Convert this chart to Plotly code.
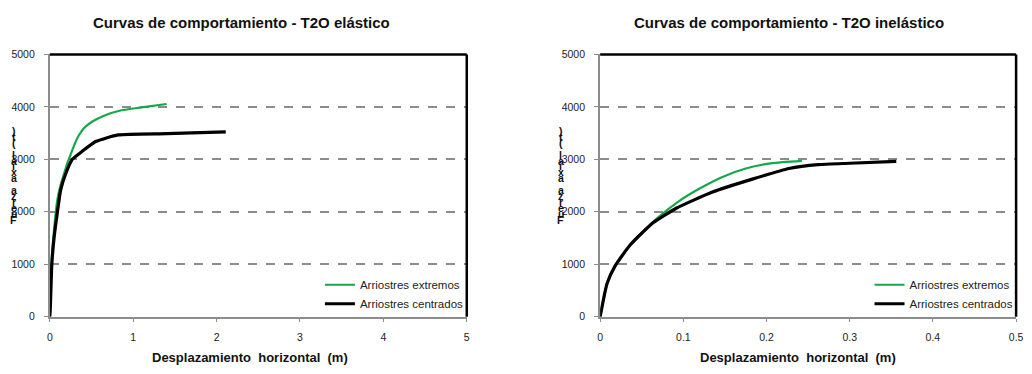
import plotly.graph_objects as go

# Capacity curves: horizontal displacement (m) vs axial force (t)
elas_ext_x = [0, 0.01, 0.02, 0.05, 0.09, 0.13, 0.17, 0.21, 0.25, 0.30, 0.35, 0.42, 0.51, 0.65, 0.86, 1.10, 1.40]
elas_ext_y = [0, 600, 1050, 1650, 2232, 2520, 2725, 2930, 3094, 3300, 3463, 3610, 3720, 3832, 3935, 3990, 4055]
elas_cen_x = [0, 0.005, 0.024, 0.05, 0.09, 0.13, 0.19, 0.27, 0.39, 0.55, 0.82, 1.40, 2.11]
elas_cen_y = [0, 150, 1002, 1494, 1987, 2417, 2725, 3000, 3155, 3339, 3465, 3490, 3524]

inel_ext_x = [0, 0.0083, 0.018, 0.040, 0.068, 0.094, 0.119, 0.147, 0.175, 0.207, 0.2425]
inel_ext_y = [0, 631, 969, 1440, 1870, 2194, 2438, 2665, 2826, 2929, 2972]
inel_cen_x = [0, 0.0083, 0.018, 0.036, 0.064, 0.092, 0.135, 0.183, 0.227, 0.262, 0.300, 0.356]
inel_cen_y = [0, 631, 969, 1366, 1796, 2072, 2377, 2623, 2826, 2900, 2925, 2960]

series_names = ["Arriostres extremos", "Arriostres centrados"]
titles = ["Curvas de comportamiento - T2O elástico", "Curvas de comportamiento - T2O inelástico"]
x_title = "Desplazamiento  horizontal  (m)"
y_title = "Fuerza axial (t)"

GREEN = "#15a84a"
FONT = "Liberation Sans, Arial, sans-serif"
W, H = 1032, 374

fig = go.Figure()
fig.add_trace(go.Scatter(x=elas_ext_x, y=elas_ext_y, mode="lines", name=series_names[0],
                         line=dict(color=GREEN, width=2.2, shape="spline", smoothing=0.6),
                         xaxis="x", yaxis="y", legend="legend"))
fig.add_trace(go.Scatter(x=elas_cen_x, y=elas_cen_y, mode="lines", name=series_names[1],
                         line=dict(color="black", width=3.2, shape="spline", smoothing=0.5),
                         xaxis="x", yaxis="y", legend="legend"))
fig.add_trace(go.Scatter(x=inel_ext_x, y=inel_ext_y, mode="lines", name=series_names[0],
                         line=dict(color=GREEN, width=2.2, shape="spline", smoothing=0.5),
                         xaxis="x2", yaxis="y2", legend="legend2"))
fig.add_trace(go.Scatter(x=inel_cen_x, y=inel_cen_y, mode="lines", name=series_names[1],
                         line=dict(color="black", width=3.2, shape="spline", smoothing=0.5),
                         xaxis="x2", yaxis="y2", legend="legend2"))

tickfont = dict(family=FONT, size=10.5, color="#222")
ydom = [1 - 321 / H, 1 - 50 / H]


def xaxis(dom, rng, dtick, anchor):
    return dict(domain=dom, range=rng, dtick=dtick, anchor=anchor, showgrid=False, zeroline=False,
                showline=True, linecolor="#8c8c8c", linewidth=2, ticks="outside", ticklen=3,
                tickcolor="#8c8c8c", tickfont=tickfont, ticklabelstandoff=7)


def yaxis(rng, anchor):
    return dict(domain=ydom, range=rng, dtick=1000, anchor=anchor, showgrid=True,
                gridcolor="#8c8c8c", griddash="dash", gridwidth=1.5, zeroline=False,
                showline=True, linecolor="#8c8c8c", linewidth=2, ticks="outside", ticklen=4,
                tickcolor="#8c8c8c", tickfont=tickfont, ticklabelstandoff=7)


xd1 = [47.3 / W, 468.3 / W]
xd2 = [603 / W, 1023 / W]

legend_style = dict(font=dict(family=FONT, size=11.5, color="#222"), bgcolor="rgba(0,0,0,0)",
                    xanchor="left", yanchor="top", tracegroupgap=0, itemwidth=30)

fig.update_layout(
    width=W, height=H, margin=dict(l=0, r=0, t=0, b=0),
    paper_bgcolor="white", plot_bgcolor="white",
    xaxis=xaxis(xd1, [0, 5], 1, "y"),
    yaxis=yaxis([0, 5000], "x"),
    xaxis2=xaxis(xd2, [0, 0.5], 0.1, "y2"),
    yaxis2=yaxis([0, 5000], "x2"),
    legend=dict(x=320 / W, y=1 - 273 / H, **legend_style),
    legend2=dict(x=875 / W, y=1 - 273 / H, **legend_style),
    font=dict(family=FONT),
)

# Black top and right frame edges
for xr, yr in (("x domain", "y domain"), ("x2 domain", "y2 domain")):
    fig.add_shape(type="line", xref=xr, yref=yr, x0=0, x1=1, y0=1, y1=1,
                  line=dict(color="black", width=2.5))
    fig.add_shape(type="line", xref=xr, yref=yr, x0=1, x1=1, y0=0, y1=1,
                  line=dict(color="black", width=2.5))

# Chart titles and x-axis titles
for cx, t in ((241, titles[0]), (794, titles[1])):
    fig.add_annotation(text=f"<b>{t}</b>", x=cx / W, y=1 - 17 / H, xref="paper", yref="paper",
                       xanchor="center", yanchor="middle", showarrow=False,
                       font=dict(family=FONT, size=15, color="#111"))
for cx in (249, 803):
    fig.add_annotation(text=f"<b>{x_title}</b>", x=cx / W, y=1 - 363 / H, xref="paper", yref="paper",
                       xanchor="center", yanchor="middle", showarrow=False,
                       font=dict(family=FONT, size=13, color="#111"))

# Stacked y-axis title letters, reading bottom to top
for cx in (11, 563):
    n = len(y_title)
    for i, ch in enumerate(y_title):
        if ch == " ":
            continue
        py = 221 - i * (92 / (n - 1))
        fig.add_annotation(text=f"<b>{ch}</b>", x=cx / W, y=1 - py / H, xref="paper", yref="paper",
                           xanchor="center", yanchor="middle", showarrow=False,
                           font=dict(family=FONT, size=10.5, color="#111"))

fig.write_html("out.html")
